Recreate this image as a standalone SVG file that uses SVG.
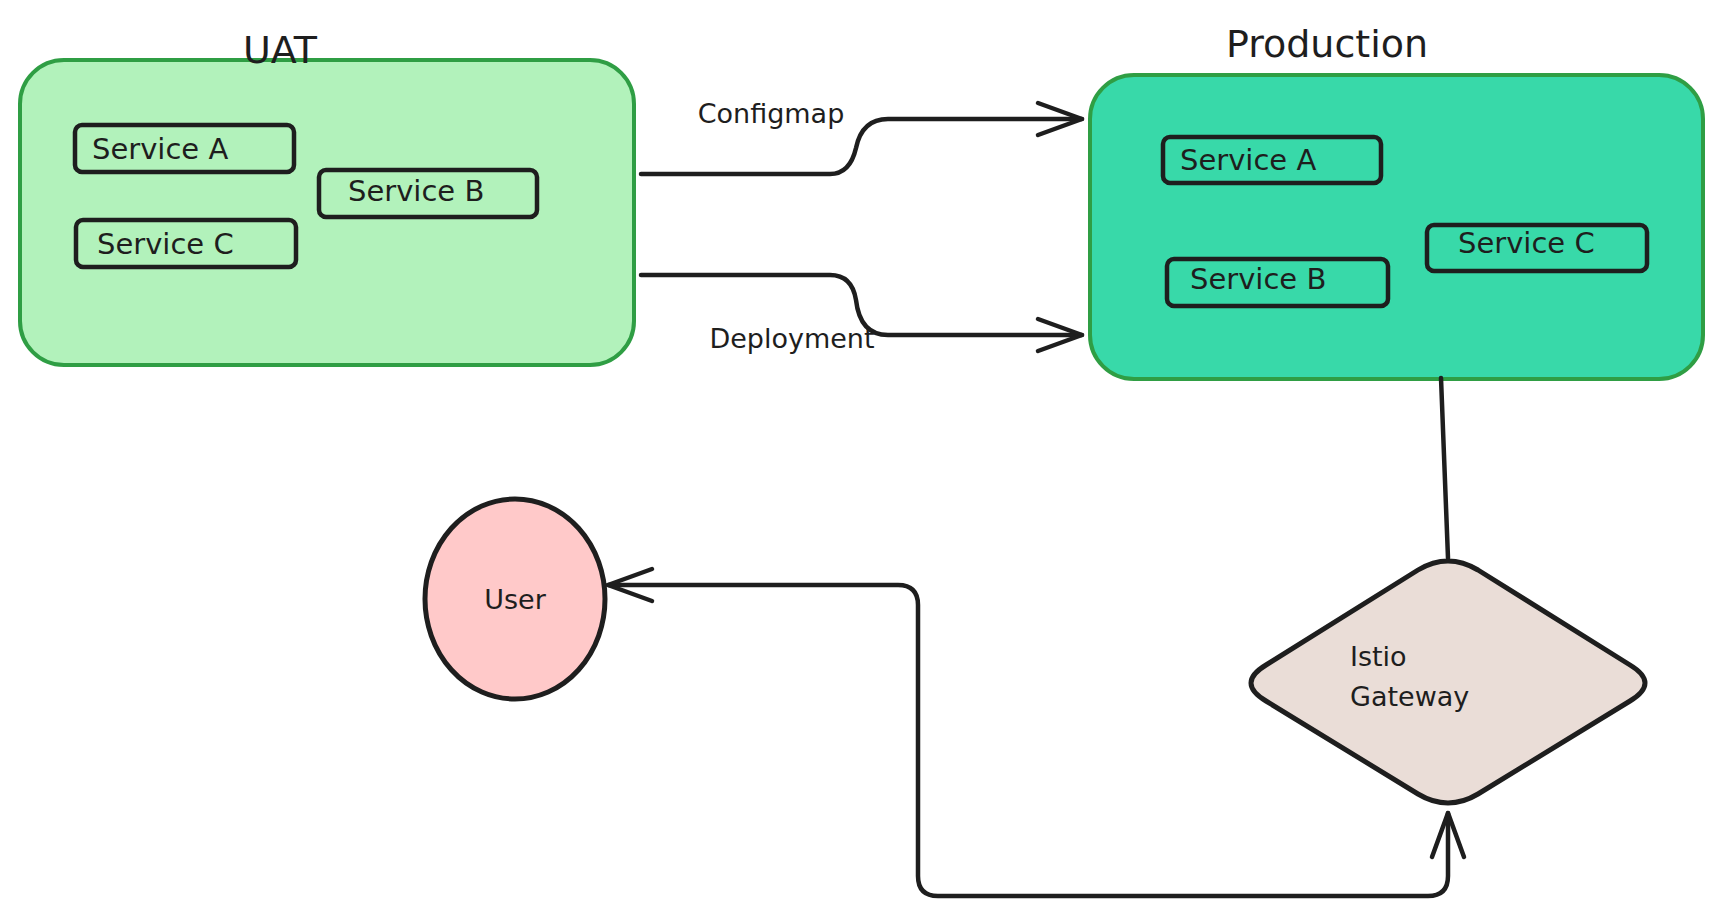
<svg xmlns="http://www.w3.org/2000/svg" width="1723" height="917" viewBox="0 0 1723 917">
  <style>
    .bg { fill: #ffffff; }
    .env { stroke: #2f9e44; stroke-width: 4; }
    .uat { fill: #b2f2bb; }
    .prod { fill: #38d9a9; }
    .svc { fill: none; stroke: #1e1e1e; stroke-width: 4.5; }
    .txt { font-family: "DejaVu Sans", "Liberation Sans", sans-serif; fill: #1e1e1e; dominant-baseline: central; }
    .title { font-size: 38px; }
    .svct { font-size: 29px; }
    .lbl { font-size: 27px; }
    .conn { fill: none; stroke: #1e1e1e; stroke-width: 4.5; stroke-linecap: round; stroke-linejoin: round; }
    .user { fill: #ffc9c9; stroke: #1e1e1e; stroke-width: 5; }
    .gw { fill: #eaddd7; stroke: #1e1e1e; stroke-width: 5; }
  </style>
  <defs>
    <marker id="arrow" markerUnits="userSpaceOnUse" viewBox="-50 -20 56 40" refX="0" refY="0" markerWidth="56" markerHeight="40" orient="auto-start-reverse" overflow="visible">
      <path d="M -44,-16 L 0,0 L -44,16" fill="none" stroke="#1e1e1e" stroke-width="4.5" stroke-linecap="round" stroke-linejoin="round"/>
    </marker>
  </defs>
  <rect class="bg" x="0" y="0" width="1723" height="917"/>

  <g id="uat">
    <rect class="env uat" x="20" y="60" width="614" height="305" rx="44" ry="44"/>
    <text class="txt title" x="280" y="50" text-anchor="middle">UAT</text>
  </g>
  <g id="uat-service-a">
    <rect class="svc" x="75" y="125" width="219" height="47" rx="7"/>
    <text class="txt svct" x="92" y="149">Service A</text>
  </g>
  <g id="uat-service-b">
    <rect class="svc" x="319" y="170" width="218" height="47" rx="7"/>
    <text class="txt svct" x="348" y="191">Service B</text>
  </g>
  <g id="uat-service-c">
    <rect class="svc" x="76" y="220" width="220" height="47" rx="7"/>
    <text class="txt svct" x="97" y="244">Service C</text>
  </g>

  <g id="production">
    <rect class="env prod" x="1090" y="75" width="613" height="304" rx="44" ry="44"/>
    <text class="txt title" x="1327" y="44" text-anchor="middle">Production</text>
  </g>
  <g id="prod-service-a">
    <rect class="svc" x="1163" y="137" width="218" height="46" rx="7"/>
    <text class="txt svct" x="1180" y="160">Service A</text>
  </g>
  <g id="prod-service-b">
    <rect class="svc" x="1167" y="259" width="221" height="47" rx="7"/>
    <text class="txt svct" x="1190" y="279">Service B</text>
  </g>
  <g id="prod-service-c">
    <rect class="svc" x="1427" y="225" width="220" height="46" rx="7"/>
    <text class="txt svct" x="1458" y="243">Service C</text>
  </g>

  <g id="user">
    <ellipse class="user" cx="515" cy="599" rx="90" ry="100"/>
    <text class="txt lbl" x="515" y="599" text-anchor="middle">User</text>
  </g>

  <g id="istio-gateway">
    <path class="gw" d="M 1478,570 L 1630,665 Q 1660,683 1630,701 L 1478,794 Q 1448,812 1418,794 L 1266,701 Q 1236,683 1266,665 L 1418,570 Q 1448,552 1478,570 Z"/>
    <text class="txt lbl" x="1350" y="656">Istio</text>
    <text class="txt lbl" x="1350" y="696">Gateway</text>
  </g>

  <g id="connectors">
    <path class="conn" d="M 641,174 L 830,174 Q 850,174 856,148 Q 862,119 888,119 L 1082,119" marker-end="url(#arrow)"/>
    <text class="txt lbl" x="771" y="113" text-anchor="middle">Configmap</text>
    <path class="conn" d="M 641,275 L 830,275 Q 852,275 856,300 Q 860,335 888,335 L 1082,335" marker-end="url(#arrow)"/>
    <text class="txt lbl" x="792" y="338" text-anchor="middle">Deployment</text>
    <path class="conn" d="M 1441,378 L 1448,558"/>
    <path class="conn" d="M 608,585 L 898,585 Q 918,585 918,605 L 918,876 Q 918,896 938,896 L 1428,896 Q 1448,896 1448,876 L 1448,813" marker-start="url(#arrow)" marker-end="url(#arrow)"/>
  </g>
</svg>
